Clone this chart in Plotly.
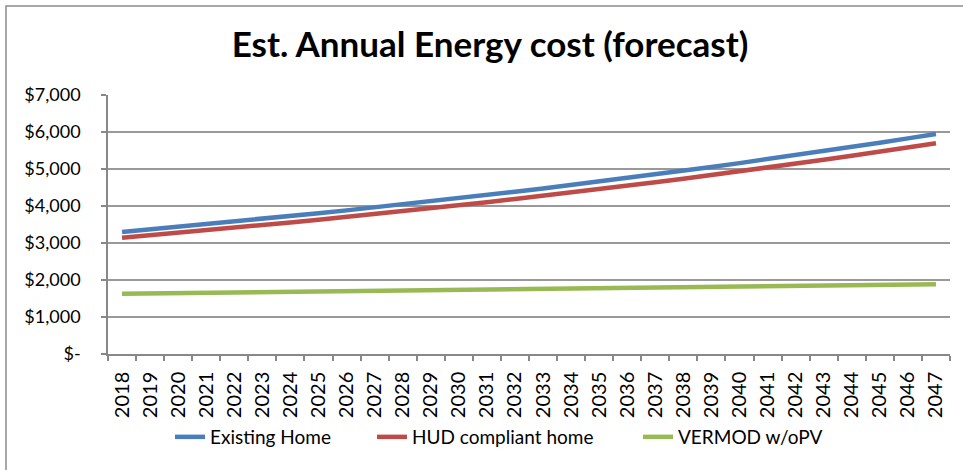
import plotly.graph_objects as go

years = [str(y) for y in range(2018, 2048)]
existing_home = [3300, 3368, 3437, 3507, 3579, 3653, 3728, 3804, 3882, 3962,
                 4043, 4126, 4211, 4297, 4385, 4475, 4567, 4661, 4756, 4854,
                 4953, 5055, 5159, 5265, 5373, 5483, 5595, 5710, 5827, 5947]
hud_compliant = [3144, 3209, 3275, 3343, 3412, 3483, 3555, 3629, 3704, 3781,
                 3859, 3939, 4020, 4104, 4189, 4275, 4364, 4454, 4546, 4641,
                 4737, 4835, 4935, 5037, 5142, 5248, 5357, 5468, 5581, 5697]
vermod_wopv = [1626, 1634, 1643, 1651, 1660, 1668, 1677, 1685, 1694, 1703,
               1712, 1720, 1729, 1738, 1747, 1756, 1765, 1774, 1784, 1793,
               1802, 1811, 1821, 1830, 1840, 1849, 1859, 1868, 1878, 1887]
y_ticks = [0, 1000, 2000, 3000, 4000, 5000, 6000, 7000]
y_tick_labels = ["$-", "$1,000", "$2,000", "$3,000", "$4,000", "$5,000", "$6,000", "$7,000"]

FONT = "Lato, Open Sans, sans-serif"

W, H = 963, 470
L, R, T, B = 108, 13, 95, 116
PW, PH = W - L - R, H - T - B


def px_x(x):
    return (x - L) / PW


def px_y(y):
    return (H - B - y) / PH


fig = go.Figure()
series = [("Existing Home", existing_home, "#4a7ebb", "legend", 170),
          ("HUD compliant home", hud_compliant, "#be4b48", "legend2", 372),
          ("VERMOD w/oPV", vermod_wopv, "#98b954", "legend3", 638)]
for name, vals, col, lg, _ in series:
    fig.add_trace(go.Scatter(x=years, y=vals, name=name, mode="lines", legend=lg,
                             line=dict(color=col, width=4.5)))

legend_common = dict(orientation="h", xanchor="left", yanchor="middle", y=px_y(437),
                     font=dict(size=19), itemwidth=30, bgcolor="rgba(0,0,0,0)")
legends = {}
for name, vals, col, lg, xpix in series:
    legends[lg] = dict(legend_common, x=px_x(xpix))

fig.update_layout(
    width=W, height=H,
    margin=dict(l=L, r=R, t=T, b=B, autoexpand=False),
    paper_bgcolor="white", plot_bgcolor="white",
    font=dict(family=FONT, color="black", size=18),
    title=dict(text="<b>Est. Annual Energy cost (forecast)</b>", x=490 / W, xanchor="center",
               y=1 - 45 / H, yanchor="middle", font=dict(size=35, family=FONT)),
    showlegend=True,
    **legends,
    xaxis=dict(type="category", showgrid=False, showline=True, linecolor="#888888", linewidth=1.5,
               ticks="outside", ticklen=5, tickcolor="#888888", tickwidth=1.5, tickson="boundaries",
               tickangle=-90, tickfont=dict(size=20), ticklabelstandoff=8, range=[-0.5, 29.5],
               automargin=False),
    yaxis=dict(range=[0, 7000], tickvals=y_ticks, ticktext=y_tick_labels, showgrid=True,
               gridcolor="#999999", gridwidth=1.5, showline=True, linecolor="#888888", linewidth=1.5,
               ticks="outside", ticklen=5, tickcolor="#888888", tickwidth=1.5,
               tickfont=dict(size=18), ticklabelstandoff=17, zeroline=False, automargin=False),
    shapes=[dict(type="rect", xref="paper", yref="paper",
                 x0=px_x(6), x1=px_x(W + 20), y0=px_y(H + 20), y1=px_y(6),
                 line=dict(color="#8c8c8c", width=1.5), fillcolor="rgba(0,0,0,0)", layer="below")],
)
fig.write_html("out.html", config={"displayModeBar": False},
               post_script="document.body.style.margin='0';document.body.style.overflow='hidden';")
